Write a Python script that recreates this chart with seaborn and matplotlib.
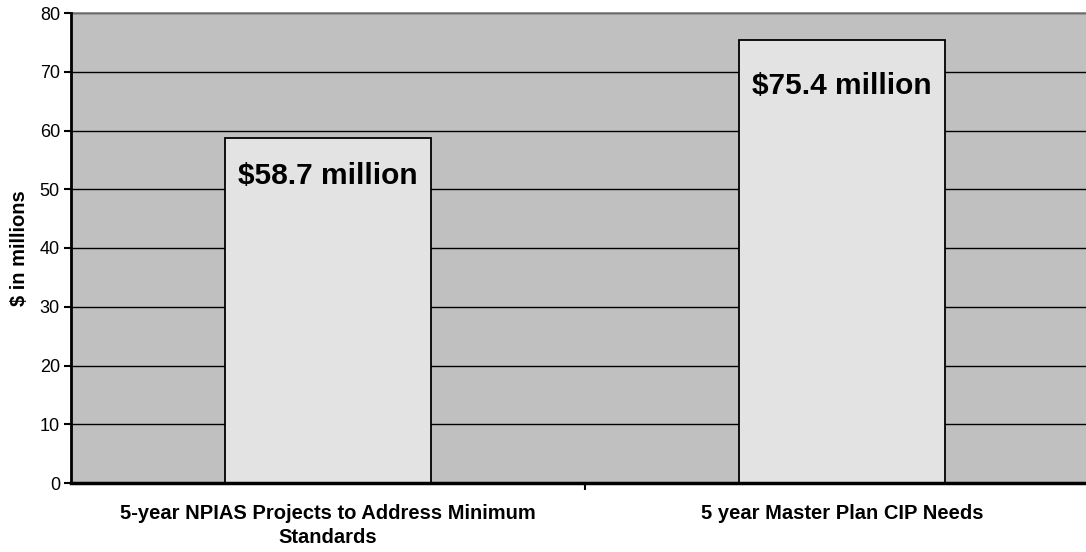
import matplotlib
matplotlib.use("Agg")
import matplotlib.pyplot as plt
import seaborn as sns
import pandas as pd

categories = ["5-year NPIAS Projects to Address Minimum\nStandards",
              "5 year Master Plan CIP Needs"]
values = [58.7, 75.4]
value_labels = ["$58.7 million", "$75.4 million"]
y_ticks = [0, 10, 20, 30, 40, 50, 60, 70, 80]

sns.set_theme(style="white")
plt.rcParams["font.family"] = ["Liberation Sans", "DejaVu Sans"]
plt.rcParams["text.color"] = "black"
plt.rcParams["axes.labelcolor"] = "black"
plt.rcParams["xtick.color"] = "black"
plt.rcParams["ytick.color"] = "black"

df = pd.DataFrame({"category": categories, "value": values})

fig = plt.figure(figsize=(10.86, 5.52), dpi=100)
# the plot area runs slightly past the right edge of the figure
ax = fig.add_axes([71 / 1086, (552 - 483) / 552, 1028 / 1086, 470 / 552])
ax.set_facecolor("#C0C0C0")

sns.barplot(data=df, x="category", y="value", ax=ax, width=0.4,
            color="#E3E3E3", edgecolor="black", linewidth=1.3,
            saturation=1, zorder=3)

ax.set_ylim(0, 80)
ax.set_xlim(-0.5, 1.5)
ax.set_yticks(y_ticks)
ax.yaxis.grid(True, color="black", linewidth=1.0, zorder=1)
ax.set_axisbelow(True)

ax.tick_params(axis="y", which="major", direction="out", length=5, width=1.5,
               color="black", labelsize=13, labelcolor="black", pad=3, left=True)
ax.set_xticks([0, 1])
ax.set_xticklabels(categories, fontsize=14.5, fontweight="bold", linespacing=1.35,
                   color="black")
ax.tick_params(axis="x", which="major", length=0, pad=15)
ax.set_xticks([0.5], minor=True)
ax.tick_params(axis="x", which="minor", direction="out", length=5, width=1.5,
               color="black", bottom=True)

ax.set_xlabel("")
ax.set_ylabel("$ in millions", fontsize=14.5, fontweight="bold", labelpad=8,
              color="black")

for side in ["left", "bottom"]:
    ax.spines[side].set_color("black")
    ax.spines[side].set_zorder(5)
ax.spines["left"].set_linewidth(2)
ax.spines["bottom"].set_linewidth(2.5)
ax.spines["top"].set_color("#808080")
ax.spines["top"].set_linewidth(1.2)
ax.spines["right"].set_visible(False)

label_offsets_px = [-38, -46]
for i, (v, lab) in enumerate(zip(values, value_labels)):
    ax.annotate(lab, xy=(i, v), xytext=(0, label_offsets_px[i] * 0.72),
                textcoords="offset points", ha="center", va="center",
                fontsize=21.5, fontweight="bold", color="black", zorder=6)

fig.savefig("out.png", dpi=100)
